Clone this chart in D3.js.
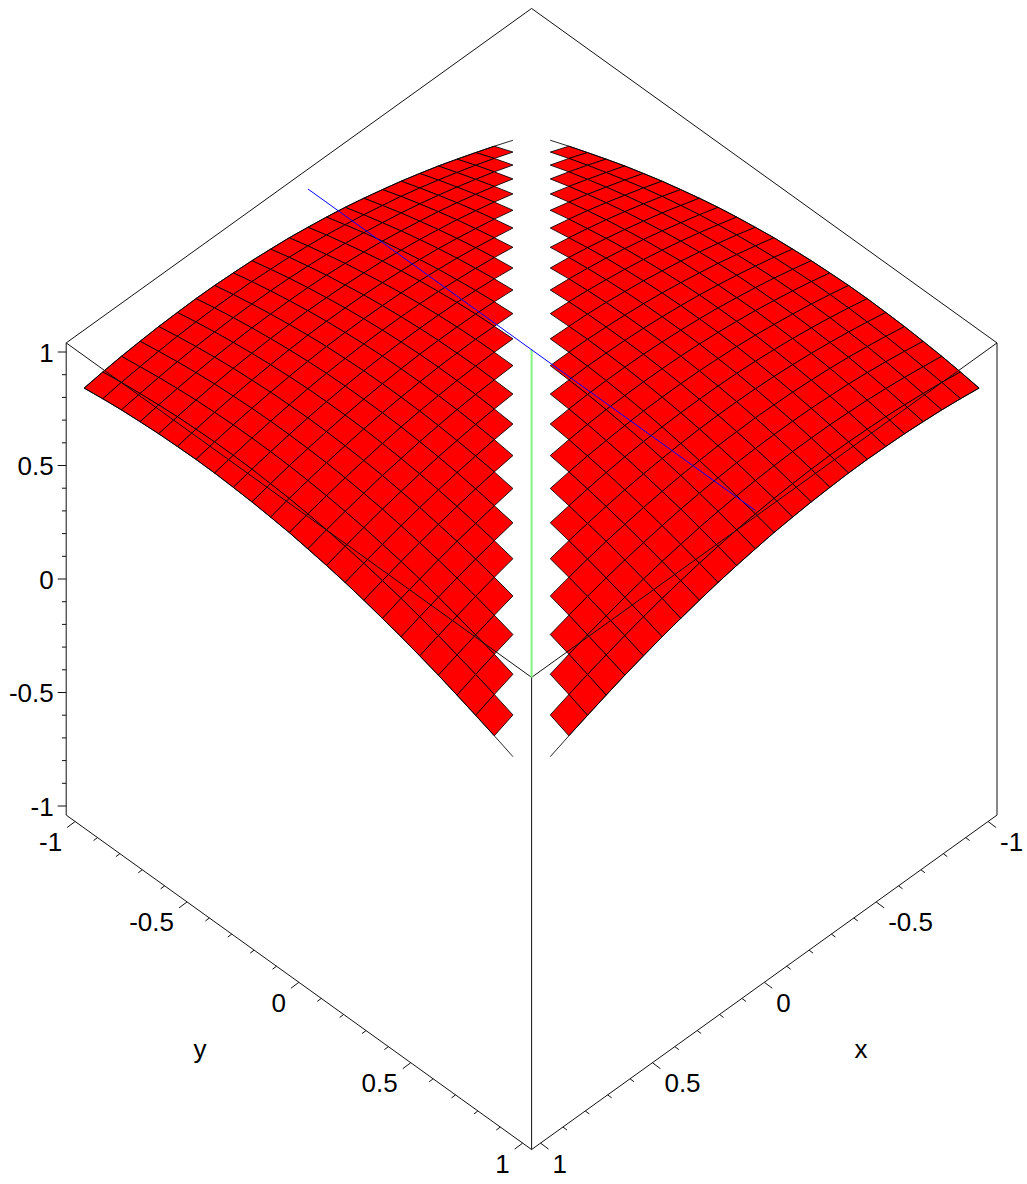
<!DOCTYPE html>
<html>
<head>
<meta charset="utf-8">
<style>
  body { margin: 0; background: #fff; }
  svg { display: block; }
  text { font-family: "Liberation Sans", Arial, sans-serif; font-size: 26px; fill: #000; }
</style>
<script src="https://cdn.jsdelivr.net/npm/d3@7"></script>
</head>
<body>
<div id="graph"></div>
<script>
'use strict'

// grid lines of the surface, both directions
const gridX = [-1, -0.9167, -0.8333, -0.75, -0.6667, -0.5833, -0.5, -0.4167, -0.3333, -0.25, -0.1667, -0.0833, 0,
  0.0833, 0.1667, 0.25, 0.3333, 0.4167, 0.5, 0.5833, 0.6667, 0.75, 0.8333, 0.9167, 1]
const gridY = gridX

// surface height. The dome is mirrored both ways, so one row per
// step away from the slit (|i-j| = 1..24), each running outwards along the slit
const zByGap = [
  [0.999, 0.992, 0.978, 0.957, 0.930, 0.897, 0.857, 0.811, 0.759, 0.702, 0.641, 0.575],
  [0.999, 0.995, 0.985, 0.968, 0.944, 0.913, 0.877, 0.834, 0.785, 0.731, 0.672, 0.608],
  [0.997, 0.990, 0.976, 0.955, 0.928, 0.894, 0.855, 0.809, 0.757, 0.701, 0.639],
  [0.995, 0.992, 0.982, 0.964, 0.941, 0.910, 0.874, 0.831, 0.782, 0.728, 0.669],
  [0.992, 0.985, 0.971, 0.951, 0.924, 0.890, 0.851, 0.805, 0.754, 0.698],
  [0.990, 0.986, 0.976, 0.959, 0.935, 0.905, 0.868, 0.826, 0.778, 0.724],
  [0.985, 0.978, 0.965, 0.944, 0.917, 0.884, 0.845, 0.800, 0.749],
  [0.982, 0.978, 0.968, 0.951, 0.928, 0.898, 0.861, 0.819, 0.771],
  [0.976, 0.969, 0.956, 0.935, 0.909, 0.876, 0.837, 0.792],
  [0.971, 0.968, 0.958, 0.941, 0.918, 0.888, 0.852, 0.811],
  [0.965, 0.958, 0.944, 0.925, 0.898, 0.866, 0.827],
  [0.959, 0.956, 0.946, 0.929, 0.906, 0.877, 0.841],
  [0.951, 0.944, 0.931, 0.912, 0.886, 0.854],
  [0.944, 0.941, 0.931, 0.915, 0.892, 0.863],
  [0.935, 0.929, 0.916, 0.897, 0.871],
  [0.928, 0.924, 0.915, 0.899, 0.876],
  [0.918, 0.911, 0.899, 0.880],
  [0.909, 0.906, 0.896, 0.881],
  [0.898, 0.892, 0.879],
  [0.888, 0.885, 0.876],
  [0.876, 0.870],
  [0.866, 0.863],
  [0.853],
  [0.841]
]

const majorTicks = [-1, -0.5, 0, 0.5, 1]
const boxRange = [-1.04, 1.04]

// the two straight lines through the dome
const blueX = [0, 0]
const blueY = [-1, 1]
const blueZ = [1.01, 1.01]
const greenX = [0, 1.04]
const greenY = [0, 1.04]
const greenZ = [1.01, 1.04]

const cw = 1027, ch = 1184

// oblique view: x and y each move the point sideways and down, z only up
const xh = d3.scaleLinear().domain([-1, 1]).range([223.75, -223.75])
const yh = d3.scaleLinear().domain([-1, 1]).range([-223.75, 223.75])
const xv = d3.scaleLinear().domain([-1, 1]).range([-160.8, 160.8])
const yv = d3.scaleLinear().domain([-1, 1]).range([-160.8, 160.8])
const zv = d3.scaleLinear().domain([-1, 1]).range([227, -227])

const project = (p) => [531.6 + xh(p[0]) + yh(p[1]), 579 + xv(p[0]) + yv(p[1]) + zv(p[2])]
const line = d3.line().x(d => project(d)[0]).y(d => project(d)[1])

let svg = d3.select('#graph').append('svg:svg')
  .attr('width', cw)
  .attr('height', ch)

const n = gridX.length
const vertex = (i, j) => [gridX[i], gridY[j],
  zByGap[Math.abs(i - j) - 1][Math.floor(Math.abs(i + j - (n - 1)) / 2)]]

// a cell touching the x = y diagonal has no height there and is left out
let cells = []
for (let i = 0; i < n - 1; i++) {
  for (let j = 0; j < n - 1; j++) {
    if (i === j || i + 1 === j || i === j + 1) continue
    cells.push([[i, j], [i + 1, j], [i + 1, j + 1], [i, j + 1]])
  }
}

svg.append('g')
  .attr('class', 'surface')
  .selectAll('path')
  .data(cells)
  .join('path')
    .attr('d', c => line(c.map(v => vertex(v[0], v[1]))) + 'Z')
    .attr('fill', '#ff0000')
    .attr('stroke', '#000')
    .attr('stroke-width', 0.85)
    .attr('stroke-linejoin', 'round')

// the outer edge keeps its lines also next to the dropped cells
let rim = []
for (let k = 0; k < n - 1; k++) {
  [0, n - 1].forEach(e => {
    if (k !== e && k + 1 !== e) {
      rim.push([[k, e], [k + 1, e]])
      rim.push([[e, k], [e, k + 1]])
    }
  })
}
svg.append('g')
  .attr('class', 'rim')
  .selectAll('path')
  .data(rim)
  .join('path')
    .attr('d', s => line(s.map(v => vertex(v[0], v[1]))))
    .attr('fill', 'none')
    .attr('stroke', '#000')
    .attr('stroke-width', 0.85)

// box
const lo = boxRange[0], hi = boxRange[1]
const boxEdges = [
  [[lo, lo, hi], [hi, lo, hi]], [[hi, lo, hi], [hi, hi, hi]],
  [[hi, hi, hi], [lo, hi, hi]], [[lo, hi, hi], [lo, lo, hi]],
  [[hi, lo, hi], [hi, lo, lo]], [[hi, hi, hi], [hi, hi, lo]],
  [[lo, hi, hi], [lo, hi, lo]],
  [[hi, lo, lo], [hi, hi, lo]], [[hi, hi, lo], [lo, hi, lo]]
]
svg.append('g')
  .attr('class', 'box')
  .selectAll('path')
  .data(boxEdges)
  .join('path')
    .attr('d', line)
    .attr('fill', 'none')
    .attr('stroke', '#111')
    .attr('stroke-width', 1)

svg.append('path')
  .datum(d3.zip(greenX, greenY, greenZ))
  .attr('d', line)
  .attr('fill', 'none')
  .attr('stroke', '#80f580')
  .attr('stroke-width', 2)

svg.append('path')
  .datum(d3.zip(blueX, blueY, blueZ))
  .attr('d', line)
  .attr('fill', 'none')
  .attr('stroke', '#0000ff')
  .attr('stroke-width', 1)

// ticks and labels
const tickValues = d3.scaleLinear().domain([-1, 1]).ticks(20)
const isMajor = v => majorTicks.some(m => Math.abs(m - v) < 1e-6)

const axes = [
  { name: 'z', at: v => project([hi, lo, v]), dx: -8.5, dy: 0 },
  { name: 'y', at: v => project([hi, v, lo]), dx: -8, dy: 6 },
  { name: 'x', at: v => project([v, hi, lo]), dx: 8, dy: 6 }
]

axes.forEach(a => {
  let g = svg.append('g').attr('class', a.name + '-axis')
  g.selectAll('line')
    .data(tickValues)
    .join('line')
      .attr('x1', v => a.at(v)[0])
      .attr('y1', v => a.at(v)[1])
      .attr('x2', v => a.at(v)[0] + a.dx * (isMajor(v) ? 1 : 0.5))
      .attr('y2', v => a.at(v)[1] + a.dy * (isMajor(v) ? 1 : 0.5))
      .attr('stroke', '#111')
      .attr('stroke-width', 1)
  g.selectAll('text')
    .data(majorTicks)
    .join('text')
      .attr('x', v => a.at(v)[0] + (a.name === 'z' ? -12.5 : a.name === 'y' ? -13 : 12))
      .attr('y', v => a.at(v)[1] + (a.name === 'z' ? 9.5 : 29.5))
      .attr('text-anchor', a.name === 'x' ? 'start' : 'end')
      .text(v => String(v))
})

svg.append('text').attr('x', 200).attr('y', 1058).attr('text-anchor', 'middle').text('y')
svg.append('text').attr('x', 861).attr('y', 1058).attr('text-anchor', 'middle').text('x')
</script>
</body>
</html>
